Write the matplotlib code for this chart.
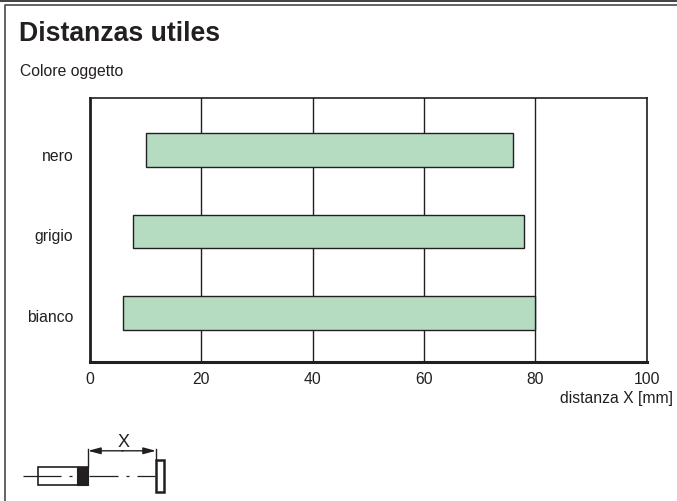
import matplotlib
matplotlib.use("Agg")
import matplotlib.pyplot as plt
from matplotlib.patches import Rectangle
from matplotlib.transforms import ScaledTranslation

categories = ["bianco", "grigio", "nero"]
start_values = [6, 7.8, 10]
end_values = [80, 78, 76]
x_ticks = [0, 20, 40, 60, 80, 100]

W, H = 677, 502
plt.rcParams["font.family"] = ["Liberation Sans", "DejaVu Sans"]
INK = "#231f20"
fig = plt.figure(figsize=(W / 100, H / 100), dpi=100, facecolor="white")

# page furniture and schematic, in pixel coordinates
bg = fig.add_axes([0, 0, 1, 1], zorder=0)
bg.set_xlim(0, W)
bg.set_ylim(H - 0.8, -0.8)
bg.axis("off")
bg.plot([0, W], [0.8, 0.8], color=INK, lw=1.2)
bg.plot([W, 5.3, 5.3], [5.4, 5.4, H], color="#4a4a4a", lw=1.2)
bg.text(19, 33, "Distanzas utiles", fontsize=19.2, fontweight="bold", color=INK, va="center", ha="left")
bg.text(19.5, 71, "Colore oggetto", fontsize=11.3, color=INK, va="center", ha="left")
bg.text(673, 397.5, "distanza X [mm]", fontsize=11.3, color=INK, va="center", ha="right")

yc = 476.3
for seg in [(23, 61), (69, 72), (89, 118), (126, 129), (137, 155)]:
    bg.plot(seg, [yc, yc], color=INK, lw=0.9, solid_capstyle="butt")
bg.add_patch(Rectangle((37.5, 467.3), 50.5, 18, fc="none", ec=INK, lw=1.2))
bg.add_patch(Rectangle((76.5, 467), 11.5, 18.5, fc=INK, ec=INK, lw=0.8))
bg.add_patch(Rectangle((155.5, 460), 8, 32.5, fc="white", ec=INK, lw=1.8))
bg.plot([88, 88], [449, 467], color=INK, lw=1.0)
bg.plot([156, 156], [449, 460], color=INK, lw=1.0)
bg.annotate("", xy=(88, 451), xytext=(123, 451),
            arrowprops=dict(arrowstyle="-|>,head_length=0.75,head_width=0.2", color=INK, lw=1.0, shrinkA=0, shrinkB=0))
bg.annotate("", xy=(156, 451), xytext=(122, 451),
            arrowprops=dict(arrowstyle="-|>,head_length=0.75,head_width=0.2", color=INK, lw=1.0, shrinkA=0, shrinkB=0))
bg.text(123.5, 441.5, "X", fontsize=13, color=INK, va="center", ha="center")

# chart
ax = fig.add_axes([90 / W, 1 - 362.6 / H, (646.7 - 90) / W, (362.6 - 98.5) / H], zorder=1, facecolor="none")
ax.set_xlim(0, 100)
ax.set_ylim(-0.595, 2.644)
ypos = list(range(len(categories)))
widths = [e - s for s, e in zip(start_values, end_values)]
ax.barh(ypos, widths, left=start_values, height=0.41, color="#b5dcc1", edgecolor=INK, linewidth=1.0, zorder=3)
ax.set_xticks(x_ticks)
ax.set_yticks(ypos, categories)
ax.grid(axis="x", color=INK, lw=1.0, zorder=1)
ax.tick_params(axis="both", length=0, labelsize=11.3, colors=INK)
ax.tick_params(axis="x", pad=7)
ax.tick_params(axis="y", pad=12)
for lab, down_px in zip(ax.get_yticklabels(), (2, 2, 4)):
    lab.set_transform(lab.get_transform() + ScaledTranslation(0, -down_px / 100, fig.dpi_scale_trans))
ax.spines["left"].set_linewidth(2.0)
ax.spines["bottom"].set_linewidth(2.2)
ax.spines["top"].set_linewidth(1.2)
ax.spines["right"].set_linewidth(1.2)
for s in ax.spines.values():
    s.set_color(INK)

fig.savefig("out.png", dpi=100)
